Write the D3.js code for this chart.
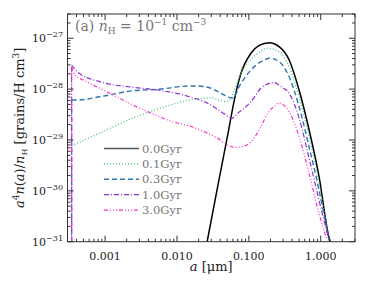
<!DOCTYPE html>
<html><head><meta charset="utf-8">
<script src="https://cdn.jsdelivr.net/npm/d3@7"></script>
<style>body{margin:0;background:#fff}svg{display:block}</style>
</head><body><svg id="c" width="374" height="285"></svg>
<script>
// ---- data ----
const seriesNames = ["0.0Gyr", "0.1Gyr", "0.3Gyr", "1.0Gyr", "3.0Gyr"];
const a00 = [0.0263,0.0365,0.0524,0.0628,0.0778,0.107,0.1395,0.192,0.264,0.364,0.50,0.69,0.95,1.30,1.36];
const v00 = [1.0e-31,1.13e-30,1.57e-29,6.1e-29,2.05e-28,5.07e-28,7.22e-28,8.19e-28,6.83e-28,3.74e-28,9.6e-29,1.57e-29,1.89e-30,1.24e-31,1.0e-31];
const a01 = [3.42e-4,8.44e-4,2.44e-3,6.72e-3,0.01494,0.02985,0.0411,0.0507,0.0628,0.0778,0.1256,0.182,0.264,0.364,0.50,0.69,0.95,1.30];
const v01 = [7.69e-30,1.37e-29,2.70e-29,4.50e-29,6.10e-29,6.77e-29,5.91e-29,5.65e-29,9.6e-29,2.05e-28,4.69e-28,6.36e-28,5.45e-28,2.76e-28,7.08e-29,1.16e-29,1.40e-30,1.07e-31];
const a03 = [3.42e-4,4.14e-4,8.44e-4,2.44e-3,5.43e-3,0.01494,0.01946,0.02985,0.0411,0.0589,0.0778,0.1071,0.1473,0.1982,0.2642,0.3637,0.5005,0.6885,0.9476,1.304];
const v03 = [6.10e-29,6.10e-29,7.08e-29,9.3e-29,9.9e-29,1.15e-28,1.15e-28,1.04e-28,8.26e-29,6.68e-29,1.30e-28,2.38e-28,3.46e-28,4.04e-28,3.46e-28,1.75e-28,4.50e-29,7.35e-30,1.03e-30,1.07e-31];
const a10 = [3.42e-4,4.14e-4,8.44e-4,2.44e-3,5.43e-3,0.01494,0.02985,0.0411,0.0589,0.0698,0.0913,0.1071,0.1473,0.2253,0.279,0.3637,0.5005,0.6885,0.9476,1.304];
const v10 = [2.98e-28,2.17e-28,1.40e-28,1.085e-28,9.6e-29,7.08e-29,4.86e-29,3.59e-29,2.70e-29,3.34e-29,4.50e-29,5.65e-29,1.04e-28,1.35e-28,1.12e-28,8.26e-29,2.70e-29,4.40e-30,6.56e-31,1.07e-31];
const a30 = [3.42e-4,3.80e-4,4.95e-4,8.44e-4,1.44e-3,2.44e-3,4.63e-3,8.76e-3,0.01494,0.0241,0.03686,0.0507,0.0628,0.0778,0.1071,0.1473,0.182,0.2378,0.2581,0.3637,0.5005,0.6885,0.9476,1.223];
const v30 = [2.72e-28,1.89e-28,1.51e-28,1.04e-28,7.08e-29,4.86e-29,3.24e-29,2.28e-29,1.88e-29,1.45e-29,1.075e-29,7.94e-30,7.15e-30,7.35e-30,9.2e-30,1.82e-29,3.34e-29,4.86e-29,5.32e-29,3.59e-29,1.16e-29,2.20e-30,3.59e-31,1.07e-31];
const xMajor = [0.001, 0.01, 0.1, 1];
const xMajorLabels = ["0.001", "0.010", "0.100", "1.000"];
const yMajor = [1e-31, 1e-30, 1e-29, 1e-28, 1e-27];
const yMajorExp = ["-31", "-30", "-29", "-28", "-27"];

// ---- layout ----
const L = 67.5, R = 355, T = 14, B = 241.7;
const svg = d3.select("#c");
const x = d3.scaleLog().domain([3e-4, 3]).range([L, R]);
const y = d3.scaleLog().domain([1e-31, 3e-27]).range([B, T]);
const serif = "'DejaVu Serif', 'Liberation Serif', serif";

svg.append("defs").append("clipPath").attr("id","clip")
  .append("rect").attr("x",L).attr("y",T).attr("width",R-L).attr("height",B-T);

const styles = [
  {color:"#000000", dash:null, w:1.5},
  {color:"#3cbf6a", dash:"1,2", w:1.2},
  {color:"#2f74b5", dash:"5,3", w:1.4},
  {color:"#9030d8", dash:"5,2,1,2", w:1.2},
  {color:"#ff33cc", dash:"4,2,1,2,1,2,1,2", w:1.2}
];
const series = [[a00,v00],[a01,v01],[a03,v03],[a10,v10],[a30,v30]];

const g = svg.append("g").attr("clip-path","url(#clip)");
const line = d3.line().x(d=>x(d[0])).y(d=>y(d[1])).curve(d3.curveMonotoneX);
series.forEach((s,i)=>{
  const pts = s[0].map((a,k)=>[a, s[1][k]]);
  const st = styles[i];
  const p = g.append("path").attr("d", line(pts)).attr("fill","none")
    .attr("stroke", st.color).attr("stroke-width", st.w);
  if (st.dash) p.attr("stroke-dasharray", st.dash);
  if (i > 0) {
    const v = g.append("line").attr("x1", x(pts[0][0])).attr("x2", x(pts[0][0]))
      .attr("y1", B).attr("y2", y(pts[0][1]))
      .attr("stroke", st.color).attr("stroke-width", st.w);
    if (st.dash) v.attr("stroke-dasharray", st.dash);
  }
});

// ---- axes / ticks ----
const minorX = [], minorY = [];
for (let e = -4; e <= 0; e++) for (let k = 2; k <= 9; k++) { const v = k*Math.pow(10,e); if (v>=3e-4 && v<=3) minorX.push(v); }
for (let e = -31; e <= -27; e++) for (let k = 2; k <= 9; k++) { const v = k*Math.pow(10,e); if (v>=1e-31 && v<=3e-27) minorY.push(v); }
const axColor = "#333";
const ax = svg.append("g").attr("stroke", axColor).attr("stroke-width", 1);
function tk(x1,y1,x2,y2){ ax.append("line").attr("x1",x1).attr("y1",y1).attr("x2",x2).attr("y2",y2); }
xMajor.forEach(v=>{ tk(x(v),B,x(v),B-6); tk(x(v),T,x(v),T+6); });
minorX.forEach(v=>{ tk(x(v),B,x(v),B-3); tk(x(v),T,x(v),T+3); });
yMajor.forEach(v=>{ tk(L,y(v),L+6,y(v)); tk(R,y(v),R-6,y(v)); });
minorY.forEach(v=>{ tk(L,y(v),L+3,y(v)); tk(R,y(v),R-3,y(v)); });
svg.append("rect").attr("x",L).attr("y",T).attr("width",R-L).attr("height",B-T)
  .attr("fill","none").attr("stroke",axColor).attr("stroke-width",1);

// tick labels
xMajor.forEach((v,i)=>{
  svg.append("text").attr("x",x(v)).attr("y",260).attr("text-anchor","middle")
    .attr("font-family",serif).attr("font-size",11).attr("fill","#222").text(xMajorLabels[i]);
});
yMajor.forEach((v,i)=>{
  const t = svg.append("text").attr("x",63).attr("y",y(v)+4).attr("text-anchor","end")
    .attr("font-family",serif).attr("font-size",11).attr("fill","#222");
  t.append("tspan").text("10");
  t.append("tspan").attr("dy",-5).attr("font-size",8).text(yMajorExp[i].replace("-","\u2212"));
});

// axis labels
const xl = svg.append("text").attr("x",(L+R)/2).attr("y",271).attr("text-anchor","middle")
  .attr("font-family",serif).attr("font-size",13).attr("fill","#222");
xl.append("tspan").attr("font-style","italic").text("a");
xl.append("tspan").text(" [\u03bcm]");

const yl = svg.append("text").attr("transform",`translate(24,${(T+B)/2}) rotate(-90)`)
  .attr("text-anchor","middle").attr("font-family",serif).attr("font-size",13).attr("fill","#222");
yl.append("tspan").attr("font-style","italic").text("a");
yl.append("tspan").attr("dy",-5).attr("font-size",9).text("4");
yl.append("tspan").attr("dy",5).attr("font-style","italic").text("n");
yl.append("tspan").text("(");
yl.append("tspan").attr("font-style","italic").text("a");
yl.append("tspan").text(")/");
yl.append("tspan").attr("font-style","italic").text("n");
yl.append("tspan").attr("dy",3).attr("font-size",8).text("H");
yl.append("tspan").attr("dy",-3).text(" [grains/H cm");
yl.append("tspan").attr("dy",-5).attr("font-size",9).text("3");
yl.append("tspan").attr("dy",5).text("]");

// title
const tt = svg.append("text").attr("x",75).attr("y",31).attr("font-family",serif)
  .attr("font-size",14).attr("fill","#777");
tt.append("tspan").text("(a) ");
tt.append("tspan").attr("font-style","italic").text("n");
tt.append("tspan").attr("dy",3).attr("font-size",9).text("H");
tt.append("tspan").attr("dy",-3).text(" = 10");
tt.append("tspan").attr("dy",-6).attr("font-size",9).text("\u22121");
tt.append("tspan").attr("dy",6).text(" cm");
tt.append("tspan").attr("dy",-6).attr("font-size",9).text("\u22123");

// legend
seriesNames.forEach((name,i)=>{
  const yy = 148.5 + i*15.4;
  const st = styles[i];
  const l = svg.append("line").attr("x1",104).attr("x2",139).attr("y1",yy).attr("y2",yy)
    .attr("stroke", i===0 ? "#555" : st.color).attr("stroke-width", st.w);
  if (st.dash) l.attr("stroke-dasharray", st.dash);
  svg.append("text").attr("x",142).attr("y",yy+4).attr("font-family",serif)
    .attr("font-size",11.5).attr("fill","#777").text(name);
});
</script></body></html>
